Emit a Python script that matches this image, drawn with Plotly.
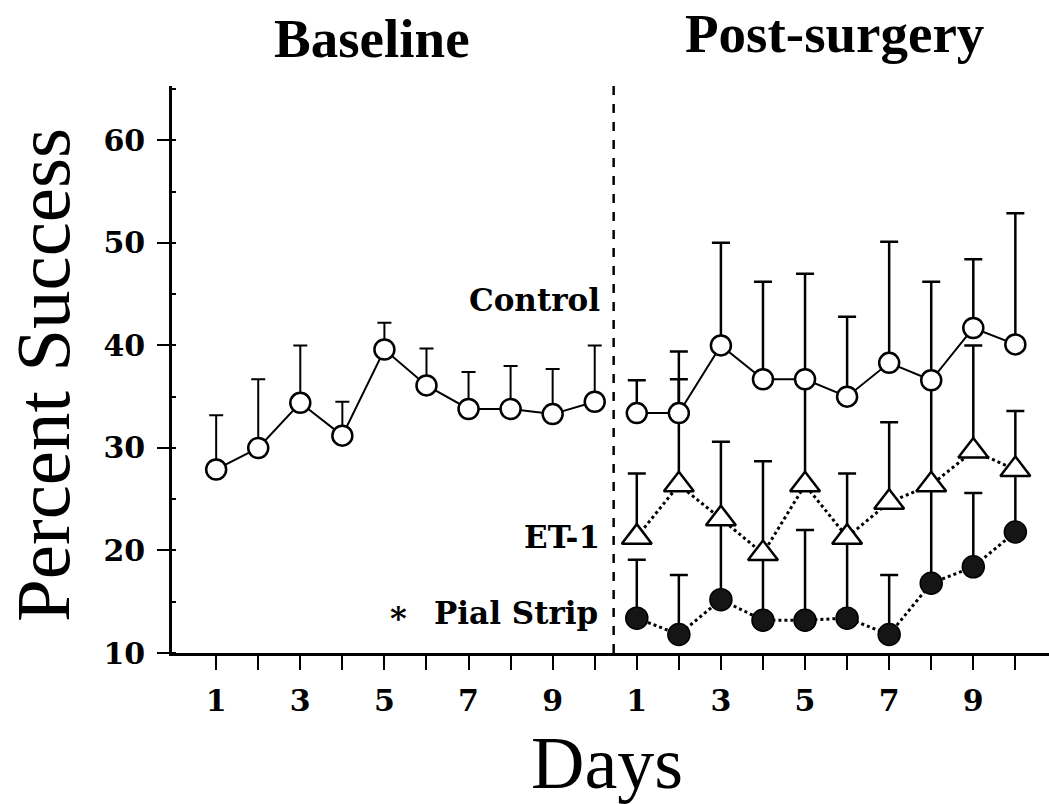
import plotly.graph_objects as go

# ---------------- data ----------------
baseline_days = [1, 2, 3, 4, 5, 6, 7, 8, 9, 10]
post_days = [1, 2, 3, 4, 5, 6, 7, 8, 9, 10]

baseline_mean = [27.9, 30.0, 34.4, 31.2, 39.6, 36.1, 33.8, 33.8, 33.3, 34.5]
baseline_err = [5.3, 6.7, 5.6, 3.3, 2.6, 3.6, 3.6, 4.2, 4.4, 5.5]

control_mean = [33.4, 33.4, 40.0, 36.7, 36.7, 35.0, 38.3, 36.6, 41.7, 40.1]
control_err = [3.2, 6.0, 10.0, 9.5, 10.3, 7.8, 11.8, 9.6, 6.7, 12.8]

et1_mean = [21.3, 26.4, 23.1, 19.7, 26.4, 21.3, 24.7, 26.4, 29.7, 27.9]
et1_err = [6.2, 10.3, 7.5, 9.0, 9.9, 6.2, 7.8, 9.9, 10.3, 5.7]

pial_mean = [13.4, 11.8, 15.2, 13.2, 13.2, 13.4, 11.8, 16.8, 18.4, 21.8]
pial_err = [5.7, 5.8, 7.8, 6.6, 8.8, 7.6, 5.8, 9.4, 7.2, 5.8]

day_tick_labels = ["1", "", "3", "", "5", "", "7", "", "9", ""]
y_ticks = [10, 20, 30, 40, 50, 60]

series_labels = ["Control", "ET-1", "Pial Strip"]
phase_labels = ["Baseline", "Post-surgery"]

# ---------------- layout geometry ----------------
W, H = 1049, 804
L, R, T, B = 172, 0, 86, 151
PW, PH = W - L - R, H - T - B

def px(x):
    return (x - L) / PW

def py(y):
    return (H - B - y) / PH

n_base = len(baseline_days)
x_base = [d for d in baseline_days]
x_post = [d + n_base for d in post_days]

SERIF = "Liberation Serif"
BOLD = "DejaVu Serif"

fig = go.Figure()

zeros = [0] * 10

# Pial strip (filled circles, dotted)
fig.add_trace(go.Scatter(
    x=x_post, y=pial_mean, mode="lines+markers", name=series_labels[2],
    line=dict(color="black", width=3, dash="dot"),
    marker=dict(symbol="circle", size=22, color="#151515",
                line=dict(color="black", width=1.5)),
    error_y=dict(type="data", symmetric=False, array=pial_err, arrayminus=zeros,
                 color="black", thickness=2.5, width=9),
))

# ET-1 (open triangles, dotted)
fig.add_trace(go.Scatter(
    x=x_post, y=et1_mean, mode="lines+markers", name=series_labels[1],
    line=dict(color="black", width=3, dash="dot"),
    marker=dict(symbol="triangle-up", size=26, color="white",
                line=dict(color="black", width=2.5)),
    error_y=dict(type="data", symmetric=False, array=et1_err, arrayminus=zeros,
                 color="black", thickness=2.5, width=9),
))

# Control post-surgery (open circles, solid)
fig.add_trace(go.Scatter(
    x=x_post, y=control_mean, mode="lines+markers", name=series_labels[0],
    line=dict(color="black", width=2),
    marker=dict(symbol="circle", size=20, color="white",
                line=dict(color="black", width=2.5)),
    error_y=dict(type="data", symmetric=False, array=control_err, arrayminus=zeros,
                 color="black", thickness=2.5, width=9),
))

# Baseline (open circles, solid)
fig.add_trace(go.Scatter(
    x=x_base, y=baseline_mean, mode="lines+markers", name=phase_labels[0],
    line=dict(color="black", width=2),
    marker=dict(symbol="circle", size=20, color="white",
                line=dict(color="black", width=2.5)),
    error_y=dict(type="data", symmetric=False, array=baseline_err, arrayminus=zeros,
                 color="black", thickness=2, width=7),
))

# dashed separator between phases
fig.add_shape(type="line", xref="x", yref="paper",
              x0=n_base + 0.45, x1=n_base + 0.45, y0=0, y1=1,
              line=dict(color="black", width=2.5, dash="dash"))

annotations = [
    dict(text=phase_labels[0], x=px(372), y=py(38),
         font=dict(family=SERIF, size=55, color="black", weight="bold"),
         xanchor="center", yanchor="middle"),
    dict(text=phase_labels[1], x=px(834), y=py(33),
         font=dict(family=SERIF, size=55, color="black", weight="bold"),
         xanchor="center", yanchor="middle"),
    dict(text=series_labels[0], x=px(602), y=py(300),
         font=dict(family=BOLD, size=31, color="black", weight="bold"),
         xanchor="right", yanchor="middle"),
    dict(text=series_labels[1], x=px(602), y=py(537),
         font=dict(family=BOLD, size=31, color="black", weight="bold"),
         xanchor="right", yanchor="middle"),
    dict(text=series_labels[2], x=px(600), y=py(613),
         font=dict(family=BOLD, size=31, color="black", weight="bold"),
         xanchor="right", yanchor="middle"),
    dict(text="*", x=px(398), y=py(618),
         font=dict(family=BOLD, size=32, color="black", weight="bold"),
         xanchor="center", yanchor="middle"),
    dict(text="Percent Success", x=px(43), y=py(375), textangle=-90,
         font=dict(family=SERIF, size=77, color="black"),
         xanchor="center", yanchor="middle"),
    dict(text="Days", x=px(607), y=py(763),
         font=dict(family=SERIF, size=74, color="black"),
         xanchor="center", yanchor="middle"),
]
for a in annotations:
    a.update(xref="paper", yref="paper", showarrow=False)

fig.update_layout(
    width=W, height=H,
    margin=dict(l=L, r=R, t=T, b=B, pad=0),
    paper_bgcolor="white", plot_bgcolor="white",
    showlegend=False,
    annotations=annotations,
)

fig.update_xaxes(
    range=[-0.05, 20.8],
    tickmode="array",
    tickvals=x_base + x_post,
    ticktext=day_tick_labels + day_tick_labels,
    ticks="outside", ticklen=14, tickwidth=2, tickcolor="black",
    showline=True, linewidth=2.5, linecolor="black",
    showgrid=False, zeroline=False,
    tickfont=dict(family=BOLD, size=30, color="black", weight="bold"),
    ticklabelstandoff=5,
)
fig.update_yaxes(
    range=[10, 65.3],
    tickmode="array", tickvals=y_ticks,
    ticks="outside", ticklen=12, tickwidth=2, tickcolor="black",
    minor=dict(dtick=5, ticks="inside", ticklen=4, tickwidth=1.5, tickcolor="black"),
    showline=True, linewidth=2.5, linecolor="black",
    showgrid=False, zeroline=False,
    tickfont=dict(family=BOLD, size=30, color="black", weight="bold"),
    ticklabelstandoff=6,
)

fig.write_html("out.html")
